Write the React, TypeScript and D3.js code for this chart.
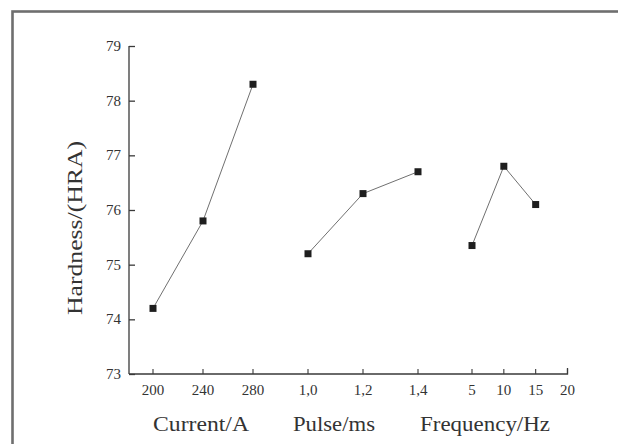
import React, { useEffect, useRef } from 'react';
import * as d3 from 'd3';

// hardness vs. process parameters
const currentTicks = [200, 240, 280];
const currentHardness = [74.2, 75.8, 78.3];

const pulseTicks = [1.0, 1.2, 1.4];
const pulseLabels = ['1,0', '1,2', '1,4'];
const pulseHardness = [75.2, 76.3, 76.7];

const freqTicks = [5, 10, 15, 20];
const freqPoints = [5, 10, 15];
const freqHardness = [75.35, 76.8, 76.1];

const yTicks = [73, 74, 75, 76, 77, 78, 79];

const FONT = '"Liberation Serif", "DejaVu Serif", serif';

const App = () => {
    const svgRef = useRef(null);

    useEffect(() => {
        const svg = d3.select(svgRef.current);
        svg.selectAll('*').remove();

        const axisColor = '#3a3a3a';
        const textColor = '#333';

        // outer frame (runs off the right and bottom of the picture)
        svg.append('rect')
            .attr('x', 12.5)
            .attr('y', 11.5)
            .attr('width', 640)
            .attr('height', 460)
            .attr('fill', 'none')
            .attr('stroke', '#6f6f6f')
            .attr('stroke-width', 2.6);

        const y = d3.scaleLinear().domain([73, 79]).range([374, 46]);

        // three separate x segments sharing one axis line
        const xCurrent = d3.scaleLinear().domain([200, 280]).range([153, 253]);
        const xPulse = d3.scaleLinear().domain([1.0, 1.4]).range([308, 418]);
        const xFreq = d3.scaleLinear().domain([5, 20]).range([472, 567.5]);

        const x0 = 129;
        const x1 = xFreq(20);

        // Y axis
        const yAxis = svg.append('g').attr('transform', `translate(${x0},0)`)
            .call(d3.axisRight(y).tickValues(yTicks).tickSize(6).tickFormat(() => ''));
        yAxis.select('.domain').attr('d', `M0,${y(79)}H0V${y(73)}`);
        yAxis.selectAll('line, path').attr('stroke', axisColor).attr('stroke-width', 1.3);

        svg.append('g').selectAll('text')
            .data(yTicks)
            .enter().append('text')
            .attr('x', 121)
            .attr('y', d => y(d) + 5)
            .attr('text-anchor', 'end')
            .attr('font-family', FONT)
            .attr('font-size', 15)
            .attr('fill', textColor)
            .text(d => d);

        // X axis line
        svg.append('path')
            .attr('d', `M${x0},${y(73)}H${x1}V${y(73) - 6}`)
            .attr('fill', 'none')
            .attr('stroke', axisColor)
            .attr('stroke-width', 1.3);

        const groups = [
            { scale: xCurrent, ticks: currentTicks, labels: currentTicks.map(String), xs: currentTicks, vals: currentHardness, title: 'Current/A', titleX: 201, titleW: 96 },
            { scale: xPulse, ticks: pulseTicks, labels: pulseLabels, xs: pulseTicks, vals: pulseHardness, title: 'Pulse/ms', titleX: 334, titleW: 82 },
            { scale: xFreq, ticks: freqTicks, labels: freqTicks.map(String), xs: freqPoints, vals: freqHardness, title: 'Frequency/Hz', titleX: 485, titleW: 130 },
        ];

        groups.forEach(grp => {
            const g = svg.append('g');

            g.selectAll('line.tick')
                .data(grp.ticks)
                .enter().append('line')
                .attr('x1', d => grp.scale(d))
                .attr('x2', d => grp.scale(d))
                .attr('y1', y(73))
                .attr('y2', y(73) - 5)
                .attr('stroke', axisColor)
                .attr('stroke-width', 1.1);

            g.selectAll('text.tl')
                .data(grp.ticks)
                .enter().append('text')
                .attr('x', d => grp.scale(d))
                .attr('y', 395)
                .attr('text-anchor', 'middle')
                .attr('font-family', FONT)
                .attr('font-size', 15)
                .attr('fill', textColor)
                .text((d, i) => grp.labels[i]);

            g.append('text')
                .attr('x', grp.titleX)
                .attr('y', 431)
                .attr('text-anchor', 'middle')
                .attr('font-family', FONT)
                .attr('font-size', 20)
                .attr('textLength', grp.titleW)
                .attr('lengthAdjust', 'spacingAndGlyphs')
                .attr('fill', textColor)
                .text(grp.title);

            const pts = grp.xs.map((d, i) => [grp.scale(d), y(grp.vals[i])]);

            g.append('path')
                .attr('d', d3.line()(pts))
                .attr('fill', 'none')
                .attr('stroke', '#707070')
                .attr('stroke-width', 1);

            g.selectAll('rect')
                .data(pts)
                .enter().append('rect')
                .attr('x', d => d[0] - 3.5)
                .attr('y', d => d[1] - 3.5)
                .attr('width', 7)
                .attr('height', 7)
                .attr('fill', '#1e1e1e');
        });

        // Y title
        svg.append('text')
            .attr('transform', `translate(82,228) rotate(-90)`)
            .attr('text-anchor', 'middle')
            .attr('font-family', FONT)
            .attr('font-size', 20)
            .attr('textLength', 174)
            .attr('lengthAdjust', 'spacingAndGlyphs')
            .attr('fill', textColor)
            .text('Hardness/(HRA)');
    }, []);

    return (
        <svg ref={svgRef} width={618} height={444}
            style={{ position: 'absolute', left: 0, top: 0, background: '#fff' }} />
    );
};

export default App;
